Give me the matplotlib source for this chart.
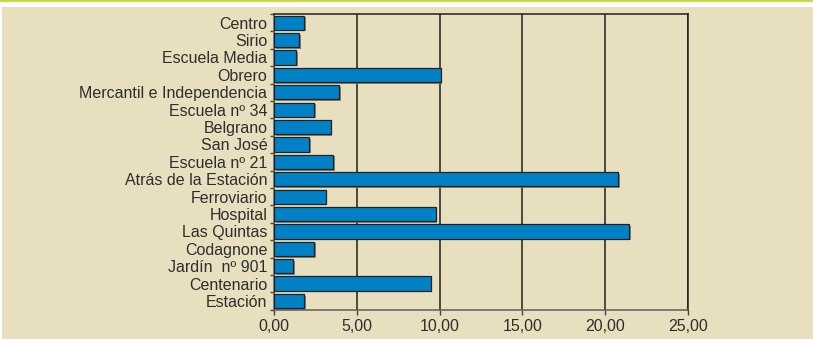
import matplotlib
matplotlib.use("Agg")
import matplotlib.pyplot as plt
import matplotlib.patheffects as pe
from matplotlib.patches import Rectangle
import numpy as np

# ── Data ──────────────────────────────────────────────────────────
barrios = [
    "Centro", "Sirio", "Escuela Media", "Obrero", "Mercantil e Independencia",
    "Escuela nº 34", "Belgrano", "San José", "Escuela nº 21",
    "Atrás de la Estación", "Ferroviario", "Hospital", "Las Quintas",
    "Codagnone", "Jardín  nº 901", "Centenario", "Estación",
]
valores = [1.80, 1.49, 1.31, 10.06, 3.91, 2.42, 3.41, 2.10, 3.57,
           20.80, 3.11, 9.76, 21.46, 2.42, 1.15, 9.46, 1.80]
x_ticks = [0, 5, 10, 15, 20, 25]

# ── Style ─────────────────────────────────────────────────────────
plt.rcParams["font.family"] = ["Liberation Sans", "DejaVu Sans"]
BEIGE = "#E8DFBF"
BAR = "#0081C6"
TEXT = "#2e2e2e"
FS = 11.5

W, H = 813, 339
fig = plt.figure(figsize=(W / 100, H / 100), dpi=100, facecolor="white")

# background panel + top accent line
fig.patches.append(Rectangle((2 / W, 0), 1, 1 - 7 / H, transform=fig.transFigure,
                             facecolor=BEIGE, edgecolor="none", zorder=-2))
fig.patches.append(Rectangle((0, 1 - 2 / H), 1, 2 / H, transform=fig.transFigure,
                             facecolor="#CDD548", edgecolor="none", zorder=-1))

ax = fig.add_axes([274.3 / W, 1 - 309.7 / H, (687.7 - 274.3) / W, (309.7 - 14) / H])
ax.set_facecolor(BEIGE)

y = np.arange(len(barrios))
bars = ax.barh(y, valores, height=0.82, color=BAR, edgecolor="#222222",
               linewidth=0.9, zorder=3)
for b in bars:
    b.set_path_effects([pe.SimplePatchShadow(offset=(1.2, -1.2), shadow_rgbFace="#6e6e6e",
                                             alpha=0.8), pe.Normal()])

ax.set_xlim(0, 25)
ax.set_ylim(len(barrios) - 0.5, -0.5)

ax.set_xticks(x_ticks)
ax.set_xticklabels([f"{v:.2f}".replace(".", ",") for v in x_ticks])
ax.xaxis.grid(True, color="#1e1e1e", linewidth=1.1, zorder=1)
ax.set_axisbelow(True)

ax.set_yticks(y)
ax.set_yticklabels(barrios)
ax.set_yticks(np.arange(len(barrios) + 1) - 0.5, minor=True)
ax.tick_params(axis="y", which="major", length=0, pad=5, labelsize=FS, labelcolor=TEXT)
ax.tick_params(axis="y", which="minor", length=3, width=1, color="#444444")
ax.tick_params(axis="x", length=3.5, width=1, color="#444444", labelsize=FS,
               labelcolor=TEXT, pad=3)

for side in ["top", "right"]:
    ax.spines[side].set_color("#1e1e1e")
    ax.spines[side].set_linewidth(1.1)
for side in ["left", "bottom"]:
    ax.spines[side].set_color("#5a5a5a")
    ax.spines[side].set_linewidth(1.1)

fig.savefig("out.png", dpi=100, facecolor=fig.get_facecolor())
